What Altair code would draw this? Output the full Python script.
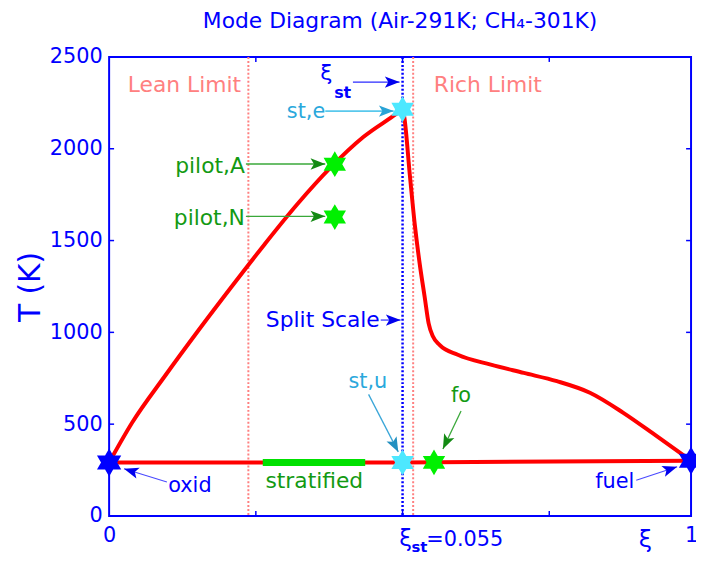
import math
import altair as alt
import pandas as pd

XI_ST = 0.055
FONT = "DejaVu Sans"
BLUE = "#0000ff"
PINK = "#ff8080"
RED = "#ff0000"
GREEN_TXT = "#139a13"
GREEN_STAR = "#00f000"
CYAN_STAR = "#4de8ff"
CYAN_TXT = "#2aa8dc"

# ---------------- data ----------------
# burning (equilibrium) branch, lean side: mixture fraction xi vs temperature T
lean_xi = [0.0, 0.00433, 0.01053, 0.01672, 0.02291, 0.02912, 0.0353, 0.04149, 0.0477, 0.05389, 0.055]
lean_T = [291, 509, 765, 1010, 1247, 1479, 1699, 1897, 2065, 2191, 2215]
# burning branch, rich side
rich_xi = [0.055, 0.06052, 0.07871, 0.09494, 0.11118, 0.12742, 0.14041, 0.15470, 0.17613, 0.23588,
           0.34402, 0.45216, 0.56062, 0.66876, 0.7769, 0.88536, 1.0]
rich_T = [2215, 2174, 1859, 1589, 1373, 1193, 1049, 977, 932, 878,
          824, 779, 734, 671, 563, 437, 301]
# mixing (non-reacting) line
mix_xi = [0.0, XI_ST, 1.0]
mix_T = [291, 291.5, 301]
# stratified range
strat_xi = [0.0288, 0.0480]
strat_T = [291.4, 291.5]
# flammability limits
limit_name = ["Lean Limit", "Rich Limit"]
limit_xi = [0.0261, 0.0897]

# marked states
star_name = ["oxid", "fuel", "st,e", "st,u", "fo", "pilot,A", "pilot,N"]
star_xi = [0.0, 1.0, 0.055, 0.055, 0.158, 0.0423, 0.0423]
star_T = [291, 301, 2215, 291.5, 292, 1916, 1628]

# axis ticks
y_tick_values = [0, 500, 1000, 1500, 2000, 2500]
y_inner_ticks = [500, 1000, 1500, 2000]
x_inner_ticks = [0.0275, 0.055, 0.5356]

# annotation labels (text, anchor xi, anchor T)
label_text = ["Lean Limit", "Rich Limit", "st,e", "pilot,A", "pilot,N", "Split Scale",
              "st,u", "fo", "oxid", "fuel", "stratified"]
label_xi = [0.01412, 0.3343, 0.04051, 0.02545, 0.02545, 0.05073, 0.0485, 0.2466, 0.01514, 0.7499, 0.03846]
label_T = [2347, 2347, 2201, 1904, 1623, 1067, 732, 651, 165, 187, 192]

# arrows (from -> to)
arrow_name = ["xi_st", "st,e", "pilot,A", "pilot,N", "Split Scale", "st,u", "fo", "oxid", "fuel"]
arrow_from_xi = [0.0457, 0.04051, 0.02564, 0.02564, 0.05091, 0.04863, 0.2466, 0.01083, 0.8204]
arrow_from_T = [2363, 2205, 1917, 1632, 1067, 662, 572, 185, 194]
arrow_to_xi = [0.05444, 0.05333, 0.04051, 0.04051, 0.05463, 0.0542, 0.1872, 0.00279, 0.9545]
arrow_to_T = [2363, 2205, 1917, 1632, 1067, 349, 365, 257, 268]

# ---------------- styles ----------------
W, H = 587, 463
SPLIT_PX = 296
T_MAX = 2500

star_color = {"oxid": BLUE, "fuel": BLUE, "st,e": CYAN_STAR, "st,u": CYAN_STAR,
              "fo": GREEN_STAR, "pilot,A": GREEN_STAR, "pilot,N": GREEN_STAR}
star_size = {"oxid": 800, "fuel": 800}

label_style = {  # color, size, align
    "Lean Limit": (PINK, 22, "center"),
    "Rich Limit": (PINK, 22, "center"),
    "st,e": (CYAN_TXT, 21, "right"),
    "pilot,A": (GREEN_TXT, 22, "right"),
    "pilot,N": (GREEN_TXT, 22, "right"),
    "Split Scale": (BLUE, 22, "right"),
    "st,u": (CYAN_TXT, 21, "center"),
    "fo": (GREEN_TXT, 21, "center"),
    "oxid": (BLUE, 21, "center"),
    "fuel": (BLUE, 21, "center"),
    "stratified": (GREEN_TXT, 22, "center"),
}

arrow_style = {  # line colour, head colour, line width
    "xi_st": ("#2a2aff", "#0000ee", 1.3),
    "st,e": ("#59c8ec", "#29a3d6", 2.0),
    "pilot,A": ("#3aa83a", "#138a13", 1.3),
    "pilot,N": ("#3aa83a", "#138a13", 1.3),
    "Split Scale": ("#3a3aff", "#0000ee", 1.3),
    "st,u": ("#3aa6d8", "#2390c0", 1.3),
    "fo": ("#3aa83a", "#138a13", 1.3),
    "oxid": ("#4a4aff", "#0000ee", 1.1),
    "fuel": ("#4a4aff", "#0000ee", 1.1),
}

HEXAGRAM = ("M0,-1L0.2887,-0.5L0.866,-0.5L0.5774,0L0.866,0.5L0.2887,0.5L0,1"
            "L-0.2887,0.5L-0.866,0.5L-0.5774,0L-0.866,-0.5L-0.2887,-0.5Z")
ARROWHEAD = "M0,0L0.5,1.3L0,1.0L-0.5,1.3Z"


def to_px(xi, T):
    if xi <= XI_ST:
        x = xi / XI_ST * SPLIT_PX
    else:
        x = SPLIT_PX + (xi - XI_ST) / (1 - XI_ST) * (W - SPLIT_PX)
    return x, H - T / T_MAX * H


# ---------------- tables ----------------
lean_df = pd.DataFrame({"xi": lean_xi, "T": lean_T})
rich_df = pd.DataFrame({"xi": rich_xi, "T": rich_T})
mix_df = pd.DataFrame({"xi": mix_xi, "T": mix_T})
strat_df = pd.DataFrame({"xi": strat_xi, "T": strat_T})
limit_df = pd.DataFrame({"name": limit_name, "xi": limit_xi})
st_df = pd.DataFrame({"xi": [XI_ST]})

star_df = pd.DataFrame({"name": star_name, "xi": star_xi, "T": star_T})
star_df["color"] = star_df["name"].map(star_color)
star_df["size"] = star_df["name"].map(lambda n: star_size.get(n, 680))

arr = pd.DataFrame({"name": arrow_name, "x0": arrow_from_xi, "T0": arrow_from_T,
                    "x1": arrow_to_xi, "T1": arrow_to_T})
angles = []
for a, b, c, d in zip(arrow_from_xi, arrow_from_T, arrow_to_xi, arrow_to_T):
    p0 = to_px(a, b)
    p1 = to_px(c, d)
    dx, dy = p1[0] - p0[0], p1[1] - p0[1]
    angles.append(math.degrees(math.atan2(dx, -dy)) % 360)
arr["angle"] = angles
arr["lc"] = arr["name"].map(lambda n: arrow_style[n][0])
arr["hc"] = arr["name"].map(lambda n: arrow_style[n][1])
arr["lw"] = arr["name"].map(lambda n: arrow_style[n][2])

lab = pd.DataFrame({"text": label_text, "xi": label_xi, "T": label_T})
lab["color"] = lab["text"].map(lambda t: label_style[t][0])
lab["size"] = lab["text"].map(lambda t: label_style[t][1])
lab["align"] = lab["text"].map(lambda t: label_style[t][2])

# inward ticks (5 px)
dx_left = 5 / SPLIT_PX * XI_ST
dx_right = 5 / (W - SPLIT_PX) * (1 - XI_ST)
dT = 5 / H * T_MAX
tick_rows = []
for v in y_inner_ticks:
    tick_rows.append({"x0": 0.0, "x1": dx_left, "T0": v, "T1": v})
    tick_rows.append({"x0": 1.0, "x1": 1.0 - dx_right, "T0": v, "T1": v})
for v in x_inner_ticks:
    tick_rows.append({"x0": v, "x1": v, "T0": 0, "T1": dT})
    tick_rows.append({"x0": v, "x1": v, "T0": T_MAX, "T1": T_MAX - dT})
tick_df = pd.DataFrame(tick_rows)

# ---------------- scales / axes ----------------
xs = alt.Scale(domain=[0, XI_ST, 1], range=[0, SPLIT_PX, W], nice=False, zero=False)
ys = alt.Scale(domain=[0, T_MAX], nice=False, zero=False)

x_axis = alt.Axis(values=[0, 1], labelExpr="datum.value == 0 ? '0' : '1'", title=None,
                  grid=False, ticks=False, domain=False, labelFlush=False, labelOverlap=False,
                  labelColor=BLUE, labelFont=FONT, labelFontSize=21, labelPadding=9)
y_axis = alt.Axis(values=y_tick_values, format="d", title="T (K)", grid=False, ticks=False,
                  domain=False, labelColor=BLUE, labelFont=FONT, labelFontSize=21,
                  labelPadding=7, titleColor=BLUE, titleFont=FONT, titleFontSize=30,
                  titleFontWeight="normal", titlePadding=4)


def X(f):
    return alt.X(f, type="quantitative", scale=xs, axis=x_axis)


def Y(f):
    return alt.Y(f, type="quantitative", scale=ys, axis=y_axis)


layers = []

# flammability limits and stoichiometric line
layers.append(alt.Chart(limit_df).mark_rule(color=PINK, strokeWidth=2, strokeDash=[2, 2]).encode(x=X("xi")))
layers.append(alt.Chart(st_df).mark_rule(color=BLUE, strokeWidth=2.5, strokeDash=[2, 2]).encode(x=X("xi")))

# inward ticks
layers.append(alt.Chart(tick_df).mark_rule(color=BLUE, strokeWidth=1.5).encode(
    x=X("x0"), x2="x1", y=Y("T0"), y2="T1"))

# curves
for d in (lean_df, rich_df):
    layers.append(alt.Chart(d).mark_line(color=RED, strokeWidth=4, interpolate="monotone").encode(
        x=X("xi"), y=Y("T"), order="xi"))
layers.append(alt.Chart(mix_df).mark_line(color=RED, strokeWidth=4).encode(x=X("xi"), y=Y("T"), order="xi"))
layers.append(alt.Chart(strat_df).mark_line(color="#00e000", strokeWidth=7, strokeCap="butt").encode(
    x=X("xi"), y=Y("T")))

# arrows
layers.append(alt.Chart(arr).mark_rule().encode(
    x=X("x0"), y=Y("T0"), x2="x1", y2="T1",
    color=alt.Color("lc:N", scale=None), size=alt.Size("lw:Q", scale=None)))
layers.append(alt.Chart(arr).mark_point(shape=ARROWHEAD, filled=True, opacity=1, strokeWidth=0).encode(
    x=X("x1"), y=Y("T1"), angle=alt.Angle("angle:Q", scale=None),
    fill=alt.Fill("hc:N", scale=None), size=alt.value(520)))

# stars
layers.append(alt.Chart(star_df).mark_point(shape=HEXAGRAM, filled=True, opacity=1, strokeWidth=0).encode(
    x=X("xi"), y=Y("T"), fill=alt.Fill("color:N", scale=None), size=alt.Size("size:Q", scale=None)))

# labels
for al in ["left", "center", "right"]:
    sub = lab[lab["align"] == al]
    if len(sub):
        layers.append(alt.Chart(sub).mark_text(align=al, baseline="middle", font=FONT).encode(
            x=X("xi"), y=Y("T"), text="text:N",
            color=alt.Color("color:N", scale=None), size=alt.Size("size:Q", scale=None)))

# xi_st symbols (top) and axis labels (bottom)
sym_text = ["ξ", "st", "ξ", "st", "=0.055", "ξ"]
sym_xi = [0.04069, 0.04218, 0.0647, 0.1102, 0.1329, 0.85]
sym_T = [2374, 2278, -164, -196, -164, -168]
sym_style = [(22, "center", "normal"), (16, "left", "bold"), (23, "center", "normal"),
             (15, "center", "bold"), (21, "left", "normal"), (24, "center", "normal")]
for t, xv, tv, (fs, al, fw) in zip(sym_text, sym_xi, sym_T, sym_style):
    d = pd.DataFrame({"text": [t], "xi": [xv], "T": [tv]})
    layers.append(alt.Chart(d).mark_text(align=al, baseline="alphabetic", font=FONT, fontSize=fs,
                                         fontWeight=fw, color=BLUE).encode(
        x=X("xi"), y=Y("T"), text="text:N"))

chart = alt.layer(*layers).properties(
    width=W, height=H,
    autosize=alt.AutoSizeParams(type="none"),
    padding={"left": 102, "top": 47, "right": 5, "bottom": 38},
    title=alt.Title("Mode Diagram (Air-291K; CH₄-301K)", font=FONT, fontSize=22,
                    fontWeight="normal", color=BLUE, offset=13, anchor="middle"),
    background="white",
).configure_view(stroke=BLUE, strokeWidth=2)

chart.save("out.html", embed_options={"renderer": "svg", "actions": False})
